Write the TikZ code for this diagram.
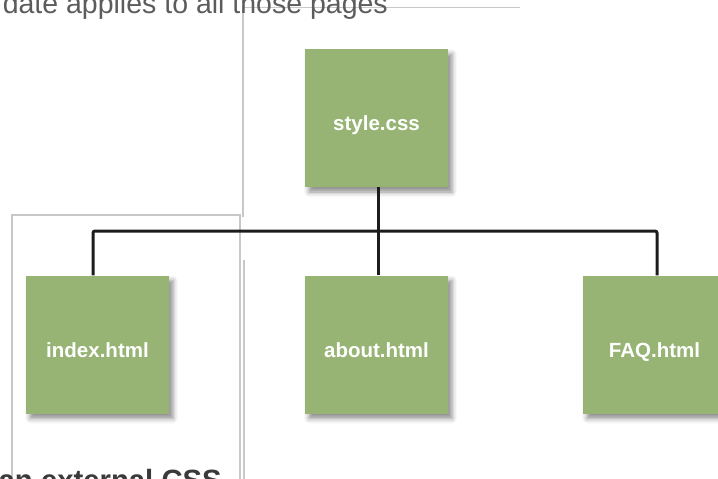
\documentclass[tikz,border=0pt]{standalone}
\usepackage{fontspec}
\setmainfont{Liberation Sans}
\usetikzlibrary{shadows.blur}
\definecolor{boxgreen}{RGB}{151,180,116}
\definecolor{framec}{RGB}{200,200,200}
\definecolor{linkc}{RGB}{28,28,28}
\definecolor{captxt}{RGB}{92,92,92}
\definecolor{titletxt}{RGB}{58,58,58}
\begin{document}
\begin{tikzpicture}[x=1pt,y=-1pt,
  filebox/.style={fill=boxgreen, minimum width=143pt, minimum height=138pt,
    inner sep=0pt, text=white, font=\fontsize{20.5}{24}\selectfont\bfseries,
    text height=25pt, text depth=0pt,
    blur shadow={shadow xshift=4pt, shadow yshift=-5pt, shadow blur radius=5pt,
      shadow opacity=45}},
  framel/.style={draw=framec, line width=1.3pt},
  link/.style={draw=linkc, line width=3pt, rounded corners=2pt},
  caption/.style={inner sep=0pt, anchor=base east}]
\useasboundingbox (0,0) rectangle (718,479);
% light frame lines
\coordinate (fa) at (520,7.5);
\coordinate (fb) at (243,7.5);
\coordinate (fc) at (243,217);
\draw[framel] (fa) -- (fb) -- (fc);
\coordinate (ga) at (12,490);
\coordinate (gb) at (12,215);
\coordinate (gc) at (240,215);
\coordinate (gd) at (240,490);
\draw[framel] (ga) -- (gb) -- (gc) -- (gd);
\coordinate (ha) at (244,260);
\coordinate (hb) at (244,490);
\draw[framel] (ha) -- (hb);
% texts
\node[caption, text=captxt, font=\fontsize{28.5}{32}\selectfont] (top) at (388,13) {date applies to all those pages};
\node[caption, text=titletxt, font=\fontsize{29.3}{32}\selectfont\bfseries] (bottom) at (222,490) {an external CSS};
% boxes
\node[filebox] (css) at (376.5,118) {style.css};
\node[filebox] (idx) at (97.5,344.5) {index.html};
\node[filebox] (about) at (376.5,344.5) {about.html};
\node[filebox] (faq) at (654.5,344.5) {FAQ.html};
% connectors
\coordinate (bus) at (378,231);
\draw[link] ([xshift=1.5pt]css.south) -- (bus);
\draw[link] ([xshift=-4.5pt]idx.north) |- (bus) -| ([xshift=2.5pt]faq.north);
\draw[link] (bus) -- ([xshift=1.5pt]about.north);
\end{tikzpicture}
\end{document}
